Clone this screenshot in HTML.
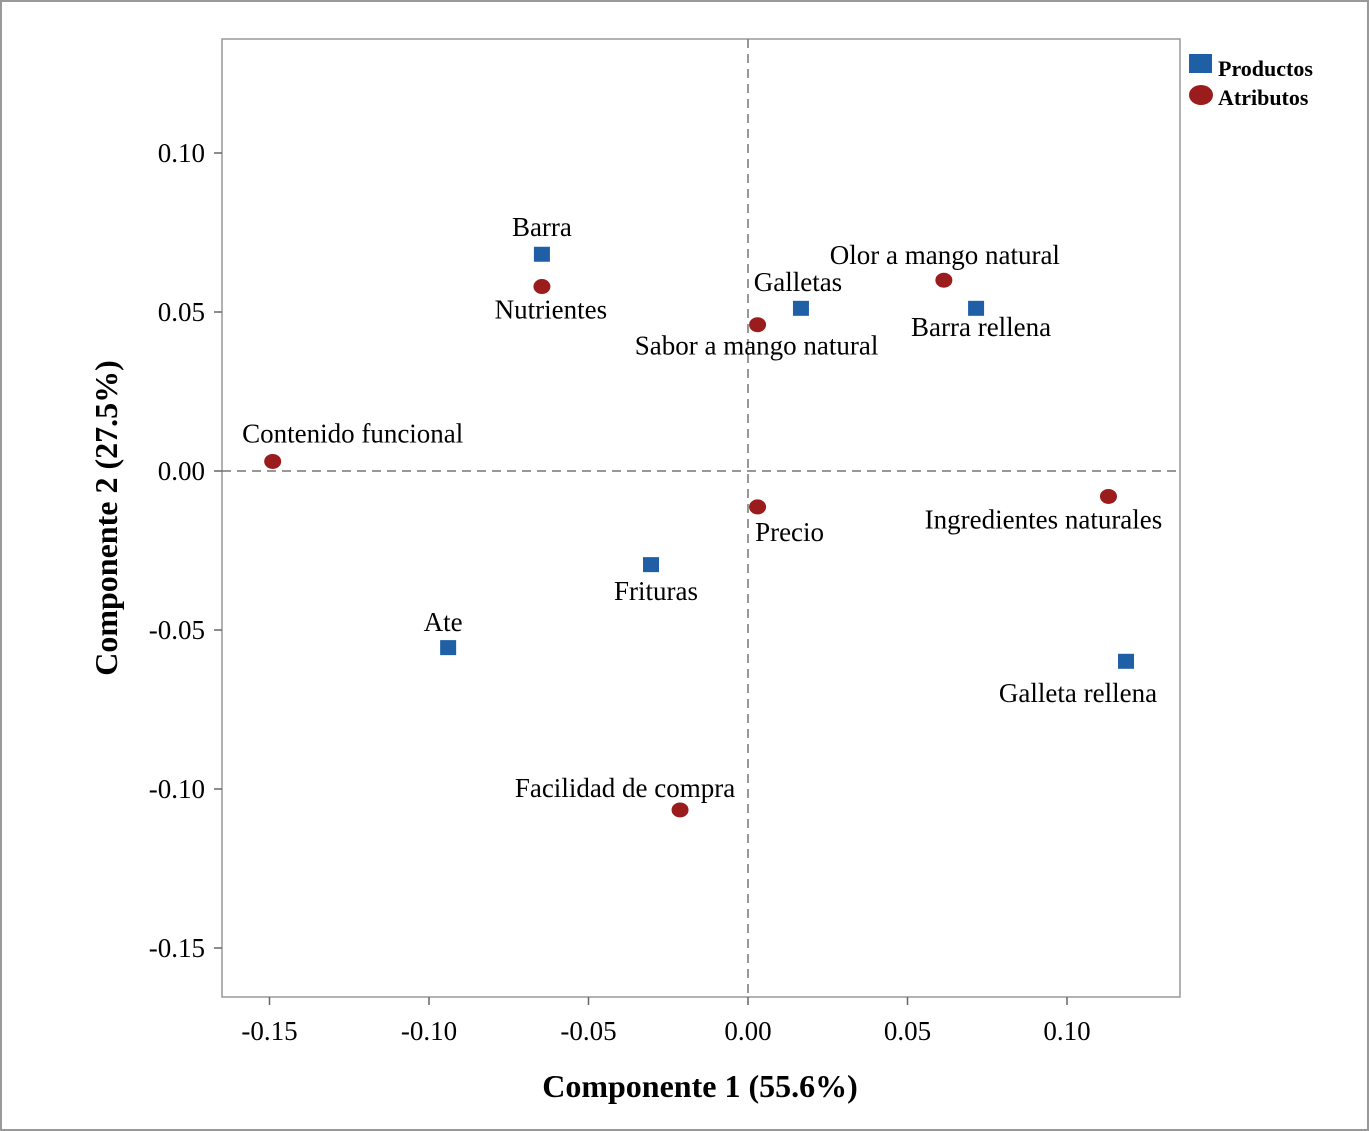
<!DOCTYPE html>
<html><head><meta charset="utf-8"><style>
html,body{margin:0;padding:0;background:#fff}
svg{display:block;font-family:"Liberation Serif",serif}
</style></head><body>
<svg id="chart" width="1369" height="1131" viewBox="0 0 1369 1131">
<rect x="1" y="1" width="1367" height="1129" fill="#fff" stroke="#999" stroke-width="2"/>
<rect x="222" y="39" width="958" height="958" fill="none" stroke="#999" stroke-width="1.5"/>
<g id="axes"></g>
<g id="marks"></g>
<text x="700" y="1097" text-anchor="middle" font-size="32" font-weight="bold">Componente 1 (55.6%)</text>
<text transform="translate(117,518) rotate(-90)" text-anchor="middle" font-size="32" font-weight="bold">Componente 2 (27.5%)</text>
<g>
<rect x="1189" y="54" width="23" height="19" fill="#1f5fa6"/>
<text x="1218" y="76" font-size="22" font-weight="bold">Productos</text>
<ellipse cx="1201" cy="95" rx="12" ry="10" fill="#9b1c1c"/>
<text x="1218" y="105" font-size="22" font-weight="bold">Atributos</text>
</g>
</svg>
<script>
const xTicks=[-0.15,-0.10,-0.05,0.00,0.05,0.10];
const yTicks=[0.10,0.05,0.00,-0.05,-0.10,-0.15];
const xTickLabels=["-0.15","-0.10","-0.05","0.00","0.05","0.10"];
const yTickLabels=["0.10","0.05","0.00","-0.05","-0.10","-0.15"];
const productNames=["Barra","Galletas","Barra rellena","Frituras","Ate","Galleta rellena"];
const productX=[-0.0646,0.0166,0.0715,-0.0304,-0.094,0.1185];
const productY=[0.068,0.051,0.051,-0.0296,-0.0557,-0.060];
const attrNames=["Nutrientes","Sabor a mango natural","Olor a mango natural","Contenido funcional","Precio","Ingredientes naturales","Facilidad de compra"];
const attrX=[-0.0646,0.003,0.0614,-0.149,0.003,0.113,-0.0213];
const attrY=[0.058,0.046,0.060,0.003,-0.0113,-0.008,-0.1066];
const productLabelOff=[[0,-19],[-3,-18],[5,27],[5,35],[-5,-17],[-48,40]];
const attrLabelOff=[[9,32],[-1,30],[1,-16],[80,-19],[32,34],[-65,32],[-55,-13]];
const NS="http://www.w3.org/2000/svg";
const sx=v=>748+v*3190;
const sy=v=>471-v*3180;
function mk(tag,attrs,parent,text){const e=document.createElementNS(NS,tag);for(const k in attrs)e.setAttribute(k,attrs[k]);if(text!==undefined)e.textContent=text;parent.appendChild(e);return e;}
const axes=document.getElementById('axes'),marks=document.getElementById('marks');
let l=mk('line',{x1:sx(0),x2:sx(0),y1:39,y2:997,stroke:'#777','stroke-width':1.5,'stroke-dasharray':'9,6'},axes);


l=mk('line',{x1:222,x2:1180,y1:sy(0),y2:sy(0),stroke:'#777','stroke-width':1.5,'stroke-dasharray':'9,6'},axes);


xTicks.forEach((v,i)=>{
 const t=mk('line',{x1:sx(v),x2:sx(v),y1:997,y2:1005,stroke:'#666','stroke-width':1.5},axes);
 
 
 const tx=mk('text',{x:sx(v),y:1040,'text-anchor':'middle','font-size':27},axes,xTickLabels[i]);
 
 
});
yTicks.forEach((v,i)=>{
 const t=mk('line',{x1:214,x2:222,y1:sy(v),y2:sy(v),stroke:'#666','stroke-width':1.5},axes);
 
 
 const tx=mk('text',{x:205,y:sy(v)+9,'text-anchor':'end','font-size':27},axes,yTickLabels[i]);
 
 
});
productNames.forEach((n,i)=>{
 const x=sx(productX[i]),y=sy(productY[i]);
 const r=mk('rect',{x:x-8,y:y-8,width:16,height:15,fill:'#1f5fa6'},marks);
 
 
 const t=mk('text',{x:x+productLabelOff[i][0],y:y+productLabelOff[i][1],'text-anchor':'middle','font-size':27},marks,n);
 
 
});
attrNames.forEach((n,i)=>{
 const x=sx(attrX[i]),y=sy(attrY[i]);
 const c=mk('ellipse',{cx:x,cy:y,rx:8.5,ry:7.5,fill:'#9b1c1c'},marks);
 
 
 const t=mk('text',{x:x+attrLabelOff[i][0],y:y+attrLabelOff[i][1],'text-anchor':'middle','font-size':27},marks,n);
 
 
});
</script>
</body></html>
